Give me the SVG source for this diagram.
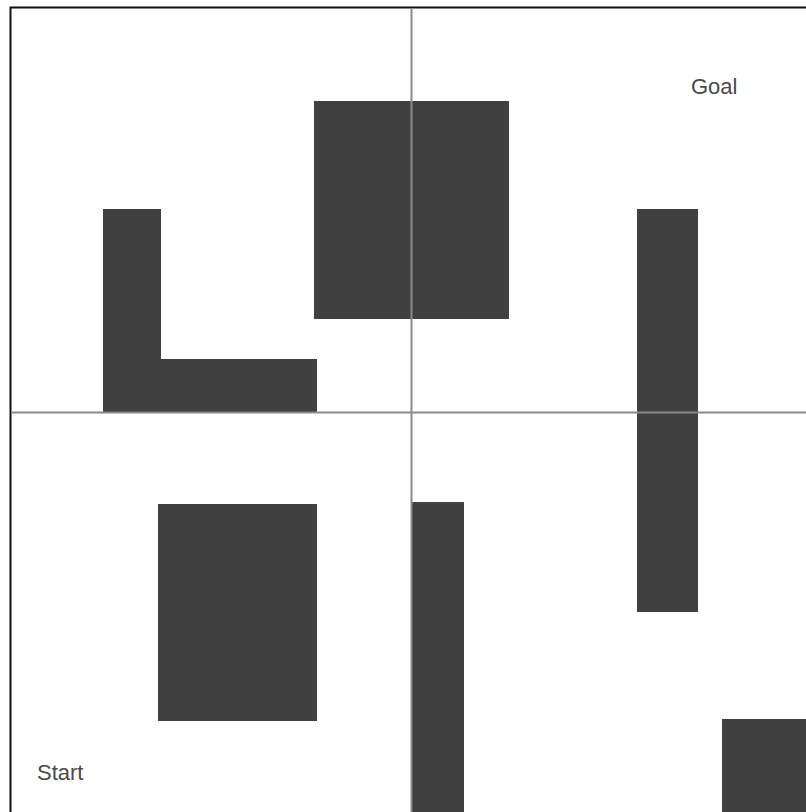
<svg xmlns="http://www.w3.org/2000/svg" width="806" height="812" viewBox="0 0 806 812">
<style>
.obs{fill:#404040;}
.grid{stroke:#8a8a8a;stroke-width:2;fill:none;}
.lbl{font-family:"Liberation Sans",Arial,sans-serif;font-size:22px;fill:#4a4a4a;}
</style>
<rect x="0" y="0" width="806" height="812" fill="#ffffff"/>
<g id="frame">
<path d="M10.5 812 V7.5 H806" fill="none" stroke="#111" stroke-width="2"/>
</g>
<g id="obstacles">
<path id="obs-L" class="obs" d="M103 209 H161 V359 H317 V412 H103 Z"/>
<rect id="obs-top" class="obs" x="314" y="101" width="195" height="218"/>
<rect id="obs-right-bar" class="obs" x="637" y="209" width="61" height="403"/>
<rect id="obs-bottom-left" class="obs" x="158" y="504" width="159" height="217"/>
<rect id="obs-bottom-mid" class="obs" x="412" y="502" width="52" height="310"/>
<rect id="obs-bottom-right" class="obs" x="722" y="719" width="84" height="93"/>
</g>
<g id="grid">
<line class="grid" x1="411.5" y1="8" x2="411.5" y2="812"/>
<line class="grid" x1="11" y1="412.5" x2="806" y2="412.5"/>
</g>
<g id="goal"><text class="lbl" x="691" y="94">Goal</text></g>
<g id="start"><text class="lbl" x="37" y="780">Start</text></g>
</svg>
